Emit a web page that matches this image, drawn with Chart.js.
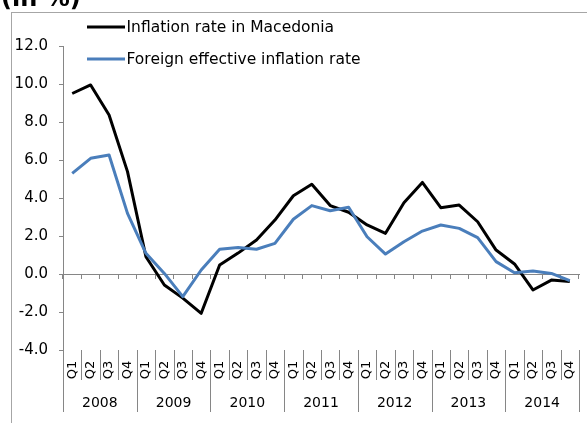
<!DOCTYPE html>
<html>
<head>
<meta charset="utf-8">
<script src="https://cdn.jsdelivr.net/npm/chart.js@4/dist/chart.umd.min.js"></script>
<style>
  html, body { margin: 0; padding: 0; background: #fff; }
  #wrap { width: 587px; height: 423px; position: relative; overflow: hidden; }
</style>
</head>
<body>
<div id="wrap"><canvas id="inflChart" width="587" height="423"></canvas></div>
<script>
const quarters = ['Q1', 'Q2', 'Q3', 'Q4'];
const years = ['2008', '2009', '2010', '2011', '2012', '2013', '2014'];
const categories = years.flatMap(y => quarters.map(q => q));
const yTicks = [-4, -2, 0, 2, 4, 6, 8, 10, 12];

const macedonia = [9.50, 9.95, 8.37, 5.39, 0.91, -0.58, -1.27, -2.07,
                   0.47, 1.10, 1.79, 2.84, 4.12, 4.72, 3.60, 3.25,
                   2.58, 2.14, 3.75, 4.82, 3.49, 3.63, 2.75, 1.26,
                   0.53, -0.84, -0.32, -0.40];
const foreign = [5.30, 6.09, 6.26, 3.19, 1.09, 0.03, -1.19, 0.21,
                 1.30, 1.40, 1.30, 1.61, 2.88, 3.60, 3.33, 3.51,
                 1.96, 1.05, 1.70, 2.26, 2.58, 2.40, 1.91, 0.65,
                 0.07, 0.16, 0.03, -0.35];

const FONT = '"DejaVu Sans", sans-serif';
const AXIS_GREY = '#868686';

// frame, title, legend and the two-level category labels
const extras = {
    id: 'extras',
    afterDraw(chart) {
        const ctx = chart.ctx;
        const x = chart.scales.x;
        const area = chart.chartArea;
        ctx.save();

        // outer frame (right/bottom edges fall outside the picture)
        ctx.strokeStyle = '#a6a6a6';
        ctx.lineWidth = 1;
        ctx.strokeRect(11.5, 12.5, 700, 600);

        // title, mostly cut off at the top
        ctx.fillStyle = '#000';
        ctx.font = 'bold 24px ' + FONT;
        ctx.textAlign = 'left';
        ctx.textBaseline = 'alphabetic';
        ctx.fillText('(in %)', 1, 6);

        // legend
        ctx.font = '15.5px ' + FONT;
        ctx.textBaseline = 'middle';
        chart.data.datasets.forEach((ds, i) => {
            const ly = 27 + i * 32;
            ctx.strokeStyle = ds.borderColor;
            ctx.lineWidth = 3;
            ctx.beginPath();
            ctx.moveTo(87, ly);
            ctx.lineTo(125, ly);
            ctx.stroke();
            ctx.fillStyle = '#000';
            ctx.fillText(ds.label, 126.5, ly + 1);
        });

        // category separators and labels
        const top = area.bottom;
        const step = x.getPixelForValue(1) - x.getPixelForValue(0);
        ctx.strokeStyle = AXIS_GREY;
        ctx.lineWidth = 1;
        for (let i = 0; i <= categories.length; i++) {
            const bx = Math.round(x.getPixelForValue(i) - step / 2) + 0.5;
            const bottom = (i % 4 === 0) ? 412 : 380;
            ctx.beginPath();
            ctx.moveTo(bx, top);
            ctx.lineTo(bx, bottom);
            ctx.stroke();
        }
        ctx.fillStyle = '#000';
        ctx.font = '13px ' + FONT;
        ctx.textAlign = 'center';
        ctx.textBaseline = 'middle';
        categories.forEach((q, i) => {
            ctx.save();
            ctx.translate(x.getPixelForValue(i), 370);
            ctx.rotate(-Math.PI / 2);
            ctx.fillText(q, 0, 0);
            ctx.restore();
        });
        ctx.font = '14px ' + FONT;
        years.forEach((yr, k) => {
            const cx = (x.getPixelForValue(k * 4) + x.getPixelForValue(k * 4 + 3)) / 2;
            ctx.fillText(yr, cx, 403);
        });
        ctx.restore();
    }
};

const chart = new Chart(document.getElementById('inflChart'), {
    type: 'line',
    data: {
        labels: categories,
        datasets: [{
            label: 'Inflation rate in Macedonia',
            data: macedonia,
            borderColor: '#000000',
            borderWidth: 3,
            order: 1
        }, {
            label: 'Foreign effective inflation rate',
            data: foreign,
            borderColor: '#4a7ebb',
            borderWidth: 3,
            order: 0
        }]
    },
    options: {
        responsive: false,
        animation: false,
        events: [],
        layout: { padding: { top: 46, right: 8, bottom: 73, left: 0 } },
        elements: {
            line: { tension: 0, fill: false, borderJoinStyle: 'round', borderCapStyle: 'butt' },
            point: { radius: 0 }
        },
        plugins: {
            legend: { display: false },
            tooltip: { enabled: false }
        },
        scales: {
            x: {
                type: 'category',
                position: { y: 0 },
                offset: true,
                ticks: { display: false },
                grid: { offset: true, drawOnChartArea: false, drawTicks: true, tickLength: 4, color: AXIS_GREY },
                border: { color: AXIS_GREY }
            },
            y: {
                min: -4,
                max: 12,
                afterFit(scale) { scale.width = 63; },
                afterBuildTicks(scale) { scale.ticks = yTicks.map(v => ({ value: v })); },
                ticks: {
                    padding: 11,
                    color: '#000',
                    font: { family: FONT, size: 15 },
                    callback: v => v.toFixed(1)
                },
                grid: { drawOnChartArea: false, tickLength: 4, color: AXIS_GREY },
                border: { color: AXIS_GREY }
            }
        }
    },
    plugins: [extras]
});
</script>
</body>
</html>
